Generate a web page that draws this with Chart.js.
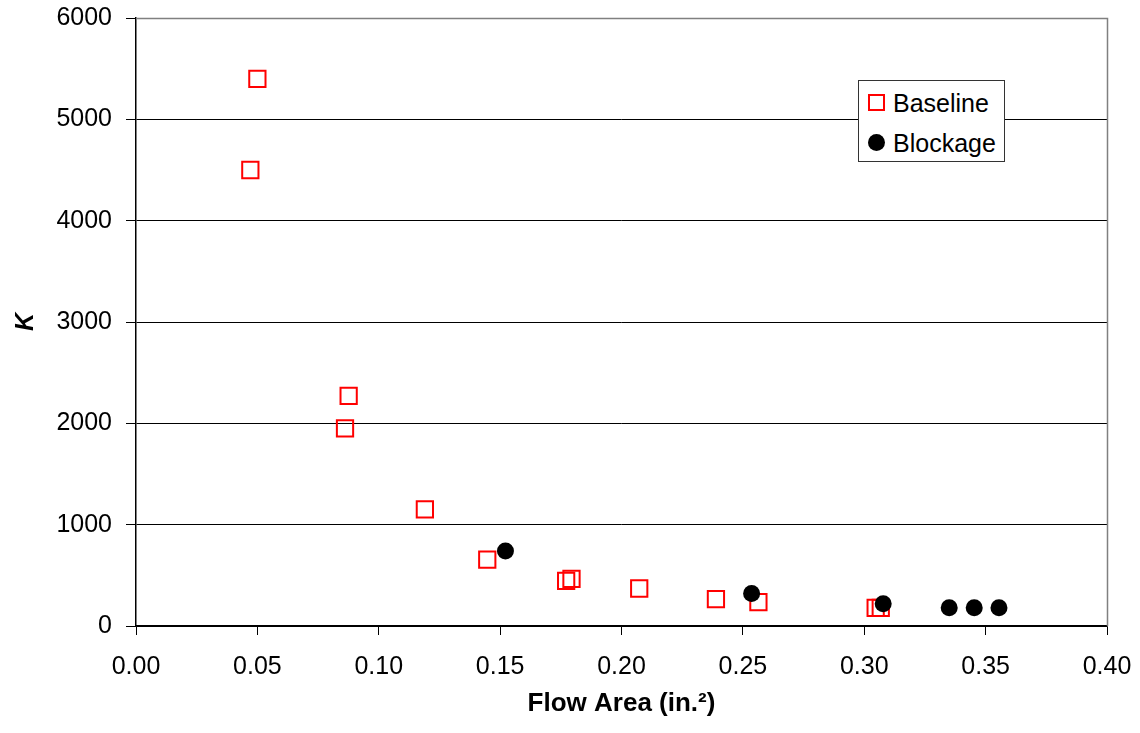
<!DOCTYPE html>
<html>
<head>
<meta charset="utf-8">
<script src="https://cdn.jsdelivr.net/npm/chart.js@4/dist/chart.umd.min.js"></script>
<style>
  html, body { margin: 0; padding: 0; background: #fff; }
  #wrap { position: relative; width: 1140px; height: 733px; }
  #legend {
    position: absolute; left: 858px; top: 80px; width: 145px; height: 80px;
    border: 1px solid #333; background: #fff;
    font-family: "Liberation Sans", Arial, sans-serif; font-size: 25px; color: #000;
  }
  .item { position: absolute; left: 0; height: 30px; line-height: 30px; }
  .sq { position: absolute; left: 9px; top: 6px; width: 13px; height: 13px; border: 2px solid #ff0000; }
  .ci { position: absolute; left: 9px; top: 6px; width: 17px; height: 17px; border-radius: 50%; background: #000; }
  .lbl { position: absolute; left: 34px; top: 0; white-space: nowrap; }
</style>
</head>
<body>
<div id="wrap">
  <canvas id="c" width="1140" height="733"></canvas>
  <div id="legend">
    <div class="item" style="top:7px;"><span class="sq"></span><span class="lbl">Baseline</span></div>
    <div class="item" style="top:47px;"><span class="ci"></span><span class="lbl">Blockage</span></div>
  </div>
</div>
<script>
const baselineX = [0.0471, 0.0500, 0.0861, 0.0876, 0.119, 0.1447, 0.1772, 0.1794, 0.2073, 0.2389, 0.2564, 0.3047, 0.3068];
const baselineY = [4500, 5400, 1950, 2270, 1150, 655, 445, 465, 370, 265, 235, 180, 180];
const blockageX = [0.1522, 0.2536, 0.3078, 0.3350, 0.3453, 0.3555];
const blockageY = [740, 320, 220, 180, 180, 180];
const xTicks = [0, 0.05, 0.10, 0.15, 0.20, 0.25, 0.30, 0.35, 0.40];
const yTicks = [0, 1000, 2000, 3000, 4000, 5000, 6000];

const FONT = '"Liberation Sans", Arial, sans-serif';

const frame = {
  id: 'frame',
  beforeDatasetsDraw(chart) {
    const a = chart.chartArea, ctx = chart.ctx;
    ctx.save();
    ctx.strokeStyle = '#808080';
    ctx.lineWidth = 1.5;
    ctx.beginPath();
    ctx.moveTo(a.left, a.top + 0.5);
    ctx.lineTo(a.right + 0.5, a.top + 0.5);
    ctx.lineTo(a.right + 0.5, a.bottom);
    ctx.stroke();
    ctx.restore();
  }
};

new Chart(document.getElementById('c'), {
  type: 'scatter',
  data: {
    datasets: [
      {
        label: 'Blockage',
        data: blockageX.map((x, i) => ({x, y: blockageY[i]})),
        pointStyle: 'circle',
        pointRadius: 8.5,
        pointHoverRadius: 8.5,
        backgroundColor: '#000',
        borderColor: '#000',
        borderWidth: 0,
        order: 0
      },
      {
        label: 'Baseline',
        data: baselineX.map((x, i) => ({x, y: baselineY[i]})),
        pointStyle: 'rect',
        pointRadius: 11.5,
        pointHoverRadius: 11.5,
        backgroundColor: 'rgba(0,0,0,0)',
        borderColor: '#ff0000',
        borderWidth: 2,
        order: 1
      }
    ]
  },
  options: {
    responsive: false,
    animation: false,
    events: [],
    layout: { padding: { top: 18, right: 33, left: 0, bottom: 0 } },
    plugins: { legend: { display: false }, tooltip: { enabled: false } },
    scales: {
      x: {
        type: 'linear',
        min: 0, max: 0.4,
        afterBuildTicks(axis) { axis.ticks = xTicks.map(v => ({value: v})); },
        afterFit(axis) { axis.height = 107; axis.paddingLeft = 0; axis.paddingRight = 0; },
        ticks: {
          callback: v => v.toFixed(2),
          color: '#000',
          font: { family: FONT, size: 25 },
          padding: 17,
          maxRotation: 0
        },
        grid: { drawOnChartArea: false, color: '#000', tickLength: 9, lineWidth: 1 },
        border: { display: true, color: '#000', width: 1.5 },
        title: {
          display: true,
          text: 'Flow Area (in.²)',
          color: '#000',
          font: { family: FONT, size: 26, weight: 'bold' },
          padding: { top: 6, bottom: 14 }
        }
      },
      y: {
        type: 'linear',
        min: 0, max: 6000,
        afterBuildTicks(axis) { axis.ticks = yTicks.map(v => ({value: v})); },
        afterFit(axis) { axis.width = 136; axis.paddingTop = 0; axis.paddingBottom = 0; },
        ticks: {
          callback: v => String(v),
          color: '#000',
          font: { family: FONT, size: 25 },
          padding: 14
        },
        grid: { drawOnChartArea: true, color: '#000', tickLength: 10, lineWidth: 1 },
        border: { display: true, color: '#000', width: 1.5 },
        title: {
          display: true,
          text: 'K',
          color: '#000',
          font: { family: FONT, size: 25, weight: 'bold', style: 'italic' },
          padding: { top: 11, bottom: 0 }
        }
      }
    }
  },
  plugins: [frame]
});
</script>
</body>
</html>
